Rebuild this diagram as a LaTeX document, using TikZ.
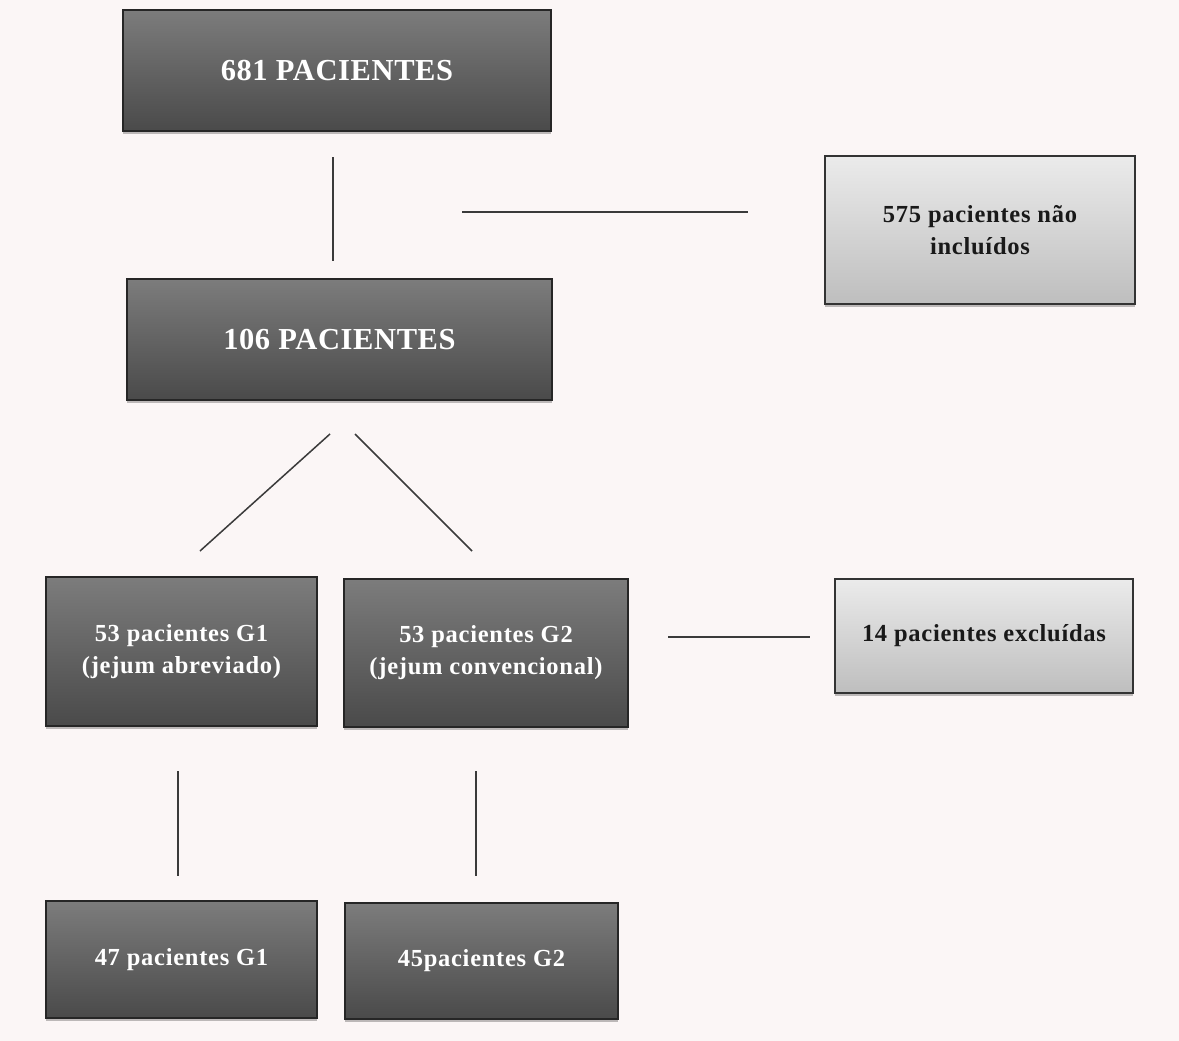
\documentclass[tikz,border=0pt]{standalone}
\usepackage{fontspec}
\setmainfont{Liberation Serif}
\usetikzlibrary{shadows}
\definecolor{bgc}{HTML}{FBF6F6}
\definecolor{darktop}{HTML}{7C7C7C}
\definecolor{darkbot}{HTML}{4A4A4A}
\definecolor{lighttop}{HTML}{EBEBEB}
\definecolor{lightbot}{HTML}{BEBEBE}
\definecolor{linec}{HTML}{3A3A3A}
\tikzset{
  darkbox/.style={rectangle, draw=black!85, line width=1.2pt, inner sep=0pt,
    top color=darktop, bottom color=darkbot, text=white, align=center,
    drop shadow={shadow xshift=0pt, shadow yshift=-3pt, opacity=0.25, fill=black}},
  lightbox/.style={rectangle, draw=black!80, line width=1.2pt, inner sep=0pt,
    top color=lighttop, bottom color=lightbot, text=black!90, align=center,
    drop shadow={shadow xshift=0pt, shadow yshift=-3pt, opacity=0.25, fill=black}},
  bigtxt/.style={font=\fontsize{30.5}{36}\selectfont\bfseries\addfontfeature{LetterSpace=2}},
  smalltxt/.style={font=\fontsize{24.5}{32}\selectfont\bfseries\addfontfeature{LetterSpace=3}},
  conn/.style={draw=linec, line width=1.5pt}
}
\begin{document}
\begin{tikzpicture}[x=1pt,y=-1pt]
\fill[bgc] (0,0) rectangle (1179,1041);
\useasboundingbox (0,0) rectangle (1179,1041);
% boxes
\node[darkbox, bigtxt, minimum width=428pt, minimum height=121pt] (b681) at (337,70.5) {681 PACIENTES};
\node[lightbox, smalltxt, minimum width=310pt, minimum height=148pt] (b575) at (980,230) {575 pacientes não\\incluídos};
\node[darkbox, bigtxt, minimum width=425pt, minimum height=121pt] (b106) at (339.5,339.5) {106 PACIENTES};
\node[darkbox, smalltxt, minimum width=271pt, minimum height=149pt] (g1) at (181.5,651.5) {53 pacientes G1\\(jejum abreviado)};
\node[darkbox, smalltxt, minimum width=284pt, minimum height=148pt] (g2) at (486,653) {53 pacientes G2\\(jejum convencional)};
\node[lightbox, smalltxt, minimum width=298pt, minimum height=114pt] (b14) at (984,636) {14 pacientes excluídas};
\node[darkbox, smalltxt, minimum width=271pt, minimum height=117pt] (f1) at (181.5,959.5) {47 pacientes G1};
\node[darkbox, smalltxt, minimum width=273pt, minimum height=116pt] (f2) at (481.5,961) {45pacientes G2};
% connector end points
\coordinate (v1a) at (333,157);
\coordinate (v1b) at (333,261);
\coordinate (h1a) at (462,212);
\coordinate (h1b) at (748,212);
\coordinate (d1a) at (330,434);
\coordinate (d1b) at (200,551);
\coordinate (d2a) at (355,434);
\coordinate (d2b) at (472,551);
\coordinate (h2a) at (668,637);
\coordinate (h2b) at (810,637);
\coordinate (v2a) at (178,771);
\coordinate (v2b) at (178,876);
\coordinate (v3a) at (476,771);
\coordinate (v3b) at (476,876);
% connectors
\draw[conn] (v1a) -- (v1b);
\draw[conn] (h1a) -- (h1b);
\draw[conn] (d1a) -- (d1b);
\draw[conn] (d2a) -- (d2b);
\draw[conn] (h2a) -- (h2b);
\draw[conn] (v2a) -- (v2b);
\draw[conn] (v3a) -- (v3b);
\end{tikzpicture}
\end{document}
